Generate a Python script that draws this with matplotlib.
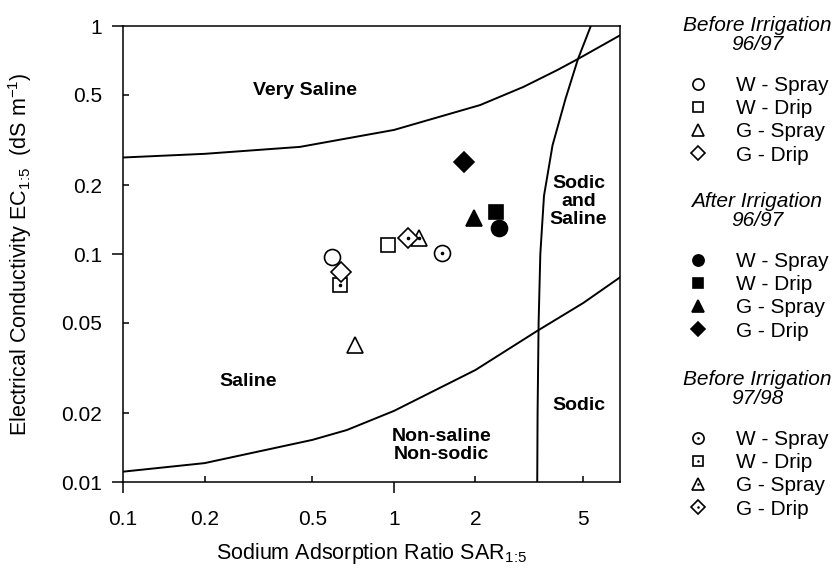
import matplotlib
matplotlib.use("Agg")
import matplotlib.pyplot as plt

plt.rcParams['font.family'] = ['Liberation Sans', 'DejaVu Sans']
plt.rcParams['mathtext.fontset'] = 'custom'
plt.rcParams['mathtext.rm'] = 'Liberation Sans'
plt.rcParams['mathtext.it'] = 'Liberation Sans:italic'
plt.rcParams['mathtext.bf'] = 'Liberation Sans:bold'

# treatments, in legend order
treatments = ['W - Spray', 'W - Drip', 'G - Spray', 'G - Drip']

# SAR 1:5 and EC 1:5
sar_before_9697 = [0.59, 0.95, 0.72, 0.64]
ec_before_9697 = [0.097, 0.11, 0.04, 0.083]
sar_after_9697 = [2.45, 2.38, 1.97, 1.81]
ec_after_9697 = [0.13, 0.153, 0.144, 0.253]
sar_before_9798 = [1.5, 0.63, 1.24, 1.13]
ec_before_9798 = [0.101, 0.073, 0.117, 0.117]

# class boundaries
saline_sar = [0.1, 0.2, 0.45, 1.0, 2.08, 3.0, 4.0, 4.78, 6.83]
saline_ec = [0.265, 0.275, 0.295, 0.35, 0.45, 0.54, 0.64, 0.717, 0.91]
nonsaline_sar = [0.1, 0.2, 0.5, 0.67, 1.0, 2.0, 3.38, 5.0, 6.83]
nonsaline_ec = [0.0111, 0.0121, 0.0153, 0.0169, 0.0205, 0.031, 0.046, 0.061, 0.079]
sodic_sar = [3.38, 3.39, 3.42, 3.47, 3.58, 3.85, 4.3, 4.78, 5.33]
sodic_ec = [0.01, 0.02, 0.05, 0.1, 0.18, 0.3, 0.48, 0.717, 1.0]

markers = ['o', 's', '^', 'D']
msizes = [11.5, 10.5, 12, 10]

fig = plt.figure(figsize=(8.39, 5.71), dpi=100)
ax = fig.add_axes([123/839, 89/571, 497/839, 456/571])

ax.plot(saline_sar, saline_ec, color='black', lw=1.4)
ax.plot(nonsaline_sar, nonsaline_ec, color='black', lw=1.4)
ax.plot(sodic_sar, sodic_ec, color='black', lw=1.4)

h_open, h_fill, h_dot = [], [], []
for i in range(4):
    l, = ax.plot(sar_before_9697[i], ec_before_9697[i], ls='none', marker=markers[i],
                 ms=msizes[i], mfc='white', mec='black', mew=1.2, zorder=4)
    h_open.append(l)
    l, = ax.plot(sar_after_9697[i], ec_after_9697[i], ls='none', marker=markers[i],
                 ms=msizes[i], mfc='black', mec='black', mew=1.2, zorder=4)
    h_fill.append(l)
    l1, = ax.plot(sar_before_9798[i], ec_before_9798[i], ls='none', marker=markers[i],
                  ms=msizes[i], mfc='white', mec='black', mew=1.2, zorder=3)
    l2, = ax.plot(sar_before_9798[i], ec_before_9798[i], ls='none', marker='o',
                  ms=2.6, mfc='black', mec='black', mew=0, zorder=3)
    h_dot.append((l1, l2))

ax.set_xscale('log')
ax.set_yscale('log')
ax.set_xlim(0.1, 6.83)
ax.set_ylim(0.01, 1)
ax.set_xticks([0.1, 1], ['0.1', '1'])
ax.set_xticks([0.2, 0.5, 2, 5], ['0.2', '0.5', '2', '5'], minor=True)
ax.set_yticks([0.01, 0.1, 1], ['0.01', '0.1', '1'])
ax.set_yticks([0.02, 0.05, 0.2, 0.5], ['0.02', '0.05', '0.2', '0.5'], minor=True)
ax.tick_params(axis='both', which='major', direction='out', length=8, width=1.1, labelsize=15)
ax.tick_params(axis='both', which='minor', direction='in', length=4, width=1.1, labelsize=15)
ax.tick_params(axis='y', which='major', pad=7)
ax.tick_params(axis='y', which='minor', pad=15)
ax.tick_params(axis='x', which='major', pad=12)
ax.tick_params(axis='x', which='minor', pad=20)
for s in ax.spines.values():
    s.set_linewidth(1.1)

ax.set_xlabel(r'Sodium Adsorption Ratio SAR$_{1\!:\!5}$', fontsize=15.5, va='center')
ax.xaxis.set_label_coords(0.5, -0.156)
ax.set_ylabel(r'Electrical Conductivity EC$_{1\!:\!5}$  (dS m$^{-1}$)', fontsize=15.5, va='center')
ax.yaxis.set_label_coords(-0.207, 0.5)

kw = dict(fontsize=14, fontweight='bold', ha='center', va='center', linespacing=1.1)
ax.text(0.47, 0.52, 'Very Saline', **kw)
ax.text(0.29, 0.0275, 'Saline', **kw)
ax.text(1.5, 0.0145, 'Non-saline\nNon-sodic', **kw)
ax.text(4.8, 0.17, 'Sodic\nand\nSaline', **kw)
ax.text(4.8, 0.0217, 'Sodic', **kw)

blocks = [('Before Irrigation\n96/97\n', h_open, 6),
          ('After Irrigation\n96/97\n', h_fill, 182),
          ('Before Irrigation\n97/98\n', h_dot, 360)]
for title, handles, top in blocks:
    leg = fig.legend(handles, treatments, title=title, loc='upper center',
                     bbox_to_anchor=(757/839, 1 - top/571), frameon=False,
                     fontsize=15, title_fontproperties={'style': 'italic', 'size': 15},
                     handletextpad=1.2, labelspacing=0.2, markerscale=0.7,
                     borderpad=0, handlelength=1.2)
    leg.get_title().set_multialignment('center')
    leg.get_title().set_linespacing(0.95)

fig.savefig('out.png', dpi=100)
